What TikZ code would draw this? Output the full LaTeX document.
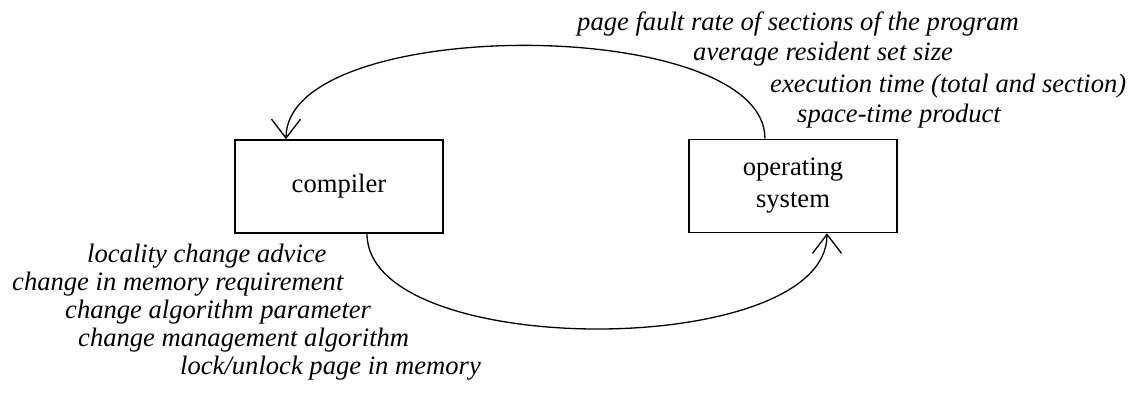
\documentclass[tikz,border=0pt]{standalone}
\usepackage{fontspec}
\setmainfont{Liberation Serif}[ItalicFont = {Liberation Serif Italic}]
\usetikzlibrary{arrows.meta}
\usetikzlibrary{positioning}
\tikzset{box/.style = {draw, line width = 1.6, inner sep = 0,
                       minimum width = 208, minimum height = 93,
                       align = center, font = \fontsize{26.6}{32}\selectfont}}
\tikzset{note/.style = {inner sep = 0, anchor = base west,
                        font = \fontsize{26.6}{30}\selectfont\itshape}}
\tikzset{arr/.style = {line width = 1.3,
                       -{Straight Barb[length = 19, width = 29, line width = 1.3]}}}

\begin{document}
\begin{tikzpicture}[x = 1pt, y = 1pt]
    \useasboundingbox (0, 0) rectangle (1133, 392);

    \node (compiler) at (339, 205.5) [box] {compiler};
    \node (os) at (793, 206) [box] {operating\\system};

    % what the system reports back
    \draw [arr] ([xshift = -28]os.north) .. controls +(0, 124) and +(0, 125) .. ([xshift = -53]compiler.north);
    \node (fault) at (577, 362) [note] {page fault rate of sections of the program};
    \node (rss) at (693, 331) [note] {average resident set size};
    \node (exec) at (770, 300) [note] {execution time (total and section)};
    \node (stp) at (797, 270) [note] {space-time product};

    % what the compiler passes on
    \draw [arr] ([xshift = 28]compiler.south) .. controls +(0, -127) and +(0, -127) .. ([xshift = 34]os.south);
    \node (advice) at (87, 130) [note] {locality change advice};
    \node (memreq) at (12, 102) [note] {change in memory requirement};
    \node (param) at (65, 74) [note] {change algorithm parameter};
    \node (mgmt) at (78, 46) [note] {change management algorithm};
    \node (lock) at (180, 18) [note] {lock/unlock page in memory};
  \end{tikzpicture}
\end{document}
